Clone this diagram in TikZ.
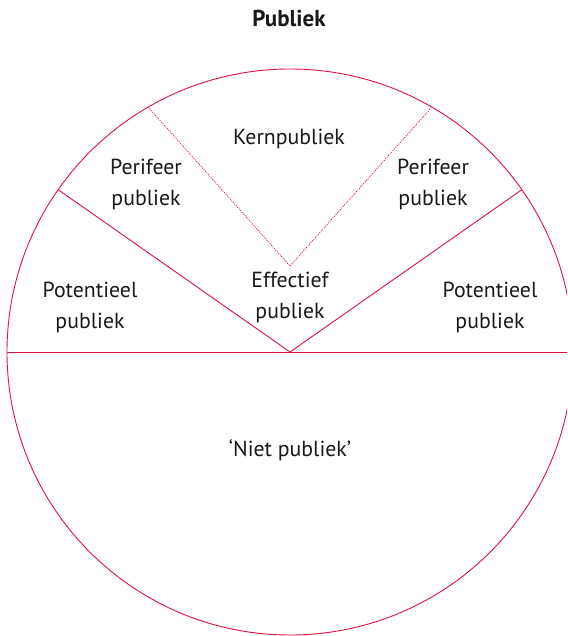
\documentclass[tikz,border=0pt]{standalone}
\usepackage{fontspec}
\setmainfont{PT Sans}
\usetikzlibrary{calc}
\definecolor{linered}{RGB}{222,20,64}
\begin{document}
\begin{tikzpicture}[x=1pt,y=-1pt,
  seg/.style={draw=linered,line width=0.9pt},
  dotseg/.style={draw=linered,line width=0.8pt,dash pattern=on 1pt off 1.2pt},
  lbl/.style={font=\fontsize{21.8}{31}\selectfont,align=center,inner sep=0pt,text=black!90}]
\useasboundingbox (0,0) rectangle (567,636);
\clip (0,0) rectangle (567,636);
\coordinate (O) at (290,352);
\coordinate (A) at (290,266);
\coordinate (L) at (7,352);
\coordinate (R) at (573,352);
\coordinate (SL) at ($(O)+(-231.8,-162.3)$);
\coordinate (SR) at ($(O)+(231.8,-162.3)$);
\coordinate (DL) at (148,107);
\coordinate (DR) at (432,107);
\draw[seg] (O) circle[radius=283];
\draw[seg] (L) -- (R);
\draw[seg] (SL) -- (O) -- (SR);
\draw[dotseg] (DL) -- (A) -- (DR);
\node[lbl,font=\fontsize{23}{26}\selectfont\bfseries] (title) at (289,18) {Publiek};
\node[lbl] (kern) at (289,139) {Kernpubliek};
\node[lbl] (perl) at (146,184) {Perifeer\\publiek};
\node[lbl] (perr) at (433,184) {Perifeer\\publiek};
\node[lbl] (potl) at (90,307) {Potentieel\\publiek};
\node[lbl] (potr) at (490,307) {Potentieel\\publiek};
\node[lbl] (eff) at (290,297) {Effectief\\publiek};
\node[lbl] (niet) at (290,450) {‘Niet publiek’};
\end{tikzpicture}
\end{document}
